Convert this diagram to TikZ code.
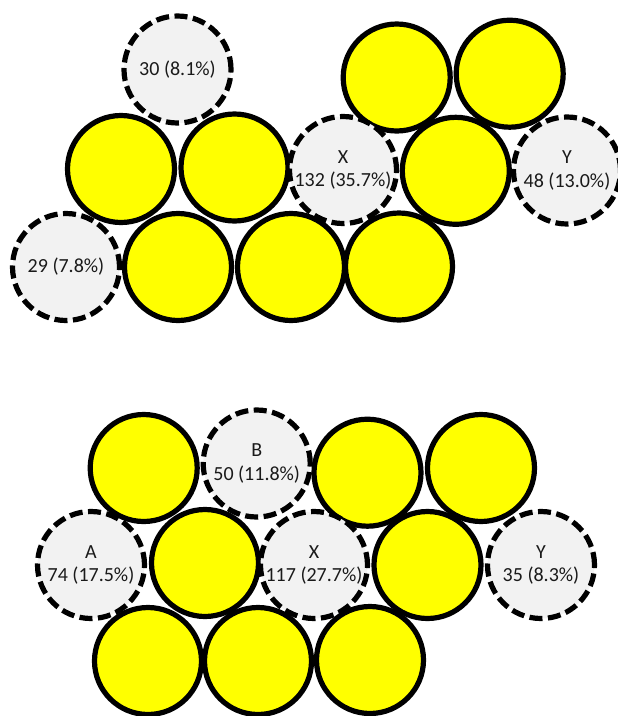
\documentclass[tikz,border=0pt]{standalone}
\usepackage{fontspec}
\setmainfont{Carlito}
\definecolor{ylw}{HTML}{FFFF00}
\definecolor{lgr}{HTML}{F2F2F2}
\definecolor{txt}{HTML}{1A1A1A}
\tikzset{
  solidc/.style={circle, draw=black, line width=5.2pt, fill=ylw, minimum size=107pt, inner sep=0pt},
  dashc/.style={circle, draw=black, line width=5.2pt, fill=lgr, dash pattern=on 13pt off 5.5pt, minimum size=107pt, inner sep=0pt, align=center, text=txt, font=\fontsize{20}{23.5}\selectfont}
}
\begin{document}
\begin{tikzpicture}[x=1pt,y=-1pt]
\useasboundingbox (0,0) rectangle (618,716);
% top group
\node[dashc] (t30) at (177.5,69.5) {30 (8.1\%)};
\node[solidc] (ty1) at (396.7,77.5) {};
\node[solidc] (ty2) at (509.7,73.7) {};
\node[solidc] (ty3) at (121,169) {};
\node[solidc] (ty4) at (234.5,167.5) {};
\node[dashc] (tx) at (343,170) {X\\132 (35.7\%)};
\node[solidc] (ty5) at (455.8,170.8) {};
\node[dashc] (tyy) at (567,170.5) {Y\\48 (13.0\%)};
\node[dashc] (t29) at (66,267) {29 (7.8\%)};
\node[solidc] (ty6) at (178,267) {};
\node[solidc] (ty7) at (291,267) {};
\node[solidc] (ty8) at (399,266.5) {};
% bottom group
\node[solidc] (by1) at (143.7,468) {};
\node[dashc] (bb) at (256.7,463.5) {B\\50 (11.8\%)};
\node[solidc] (by2) at (367.5,472.7) {};
\node[solidc] (by3) at (481,468) {};
\node[dashc] (ba) at (91,565) {A\\74 (17.5\%)};
\node[solidc] (by4) at (205,563) {};
\node[dashc] (bx) at (314,565) {X\\117 (27.7\%)};
\node[solidc] (by5) at (427.5,565) {};
\node[dashc] (byy) at (541,565) {Y\\35 (8.3\%)};
\node[solidc] (by6) at (148,661) {};
\node[solidc] (by7) at (258,661) {};
\node[solidc] (by8) at (370,660) {};
\end{tikzpicture}
\end{document}
